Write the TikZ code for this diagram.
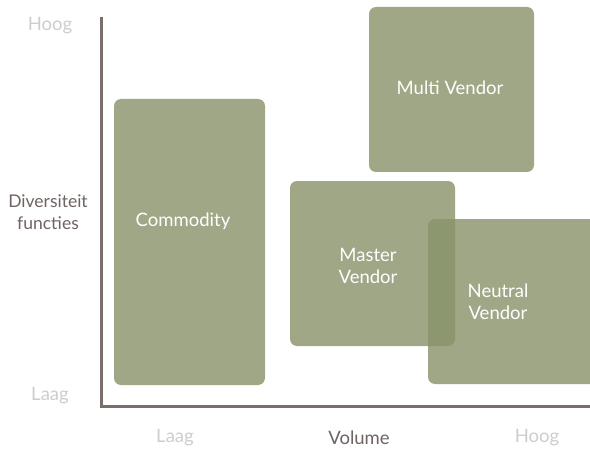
\documentclass[tikz,border=0pt]{standalone}
\usepackage{fontspec}
\setmainfont{Lato}
\definecolor{boxgreen}{RGB}{136,146,106}
\definecolor{axisgray}{RGB}{122,110,106}
\definecolor{lightlbl}{RGB}{208,204,204}
\definecolor{darklbl}{RGB}{110,100,98}
\begin{document}
\begin{tikzpicture}[x=1pt,y=-1pt,
  box/.style={fill=boxgreen,fill opacity=0.8,rounded corners=7pt},
  boxtext/.style={text=white,font=\fontsize{18.5}{22}\selectfont,align=center},
  lowlbl/.style={text=lightlbl,font=\fontsize{18.5}{22}\selectfont},
  axlbl/.style={text=darklbl,font=\fontsize{17.5}{22}\selectfont,align=center},
  axisline/.style={draw=axisgray,line width=3pt}]
\useasboundingbox (0,0) rectangle (590,452);
\fill[white] (0,0) rectangle (590,452);
% boxes
\fill[box] (114,99) rectangle (265,385);
\node[boxtext] (commodity) at (183,221) {Commodity};
\fill[box] (369,7) rectangle (534,172);
\node[boxtext] (multi) at (450,88) {Multi Vendor};
\fill[box] (428,219) rectangle (610,384);
\fill[box] (290,181) rectangle (455,346);
\node[boxtext] (master) at (368,266) {Master\\Vendor};
\node[boxtext] (neutral) at (498,302) {Neutral\\Vendor};
% axes
\coordinate (top) at (101,17);
\coordinate (origin) at (101,406);
\coordinate (right) at (591,406);
\draw[axisline] (top) -- (origin) -- (right);
% labels
\node[lowlbl] (yhigh) at (50,26) {Hoog};
\node[lowlbl] (ylow) at (50,396) {Laag};
\node[axlbl] (ylabel) at (48,212) {Diversiteit\\functies};
\node[lowlbl] (xlow) at (175,438) {Laag};
\node[axlbl,font=\fontsize{18.5}{22}\selectfont] (xlabel) at (359,438) {Volume};
\node[lowlbl] (xhigh) at (537,438) {Hoog};
\end{tikzpicture}
\end{document}
